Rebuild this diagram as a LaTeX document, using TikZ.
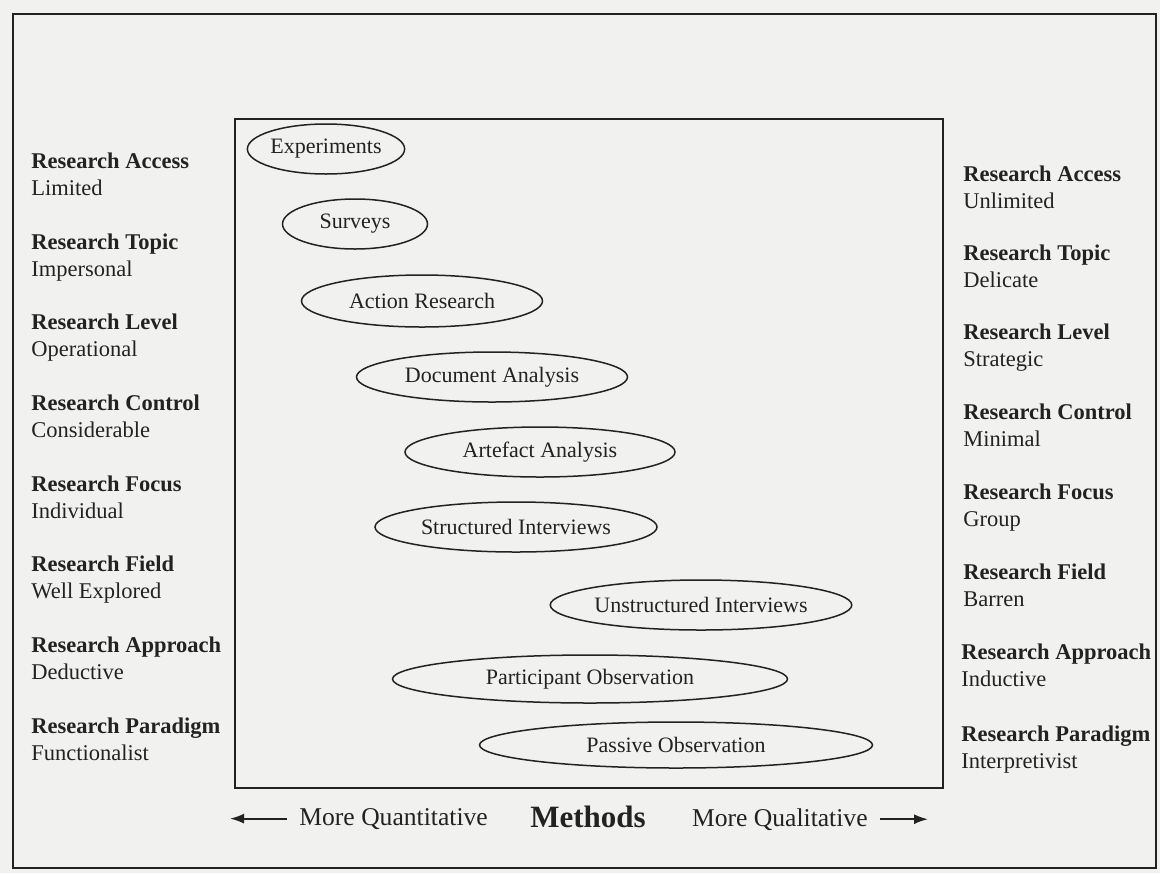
\documentclass[tikz,border=0pt]{standalone}
\usepackage{fontspec}
\setmainfont{Liberation Serif}
\usetikzlibrary{arrows.meta,shapes.geometric}
\definecolor{scan-bg}{HTML}{F1F1EF}
\definecolor{scan-ink}{HTML}{222222}

\begin{document}
\begin{tikzpicture}[>={Latex[length=7pt,width=5pt]},x=0.5pt,y=-0.5pt,
  every node/.style={text=scan-ink},
  crit/.style={anchor=north west,align=left,inner sep=0pt,
    font=\fontsize{11.25}{13.75}\selectfont},
  method/.style={ellipse,draw=scan-ink,line width=0.75pt,inner sep=0pt,
    minimum height=25pt,font=\fontsize{11}{13}\selectfont},
  axis/.style={inner sep=0pt,font=\fontsize{12.8}{15}\selectfont}]
  % Page and frames
  \useasboundingbox[fill=scan-bg] (0,0) rectangle (1160,873);
  \draw[scan-ink,line width=0.85pt] (13,14) rectangle (1156,868);
  \draw[scan-ink,line width=0.85pt] (235,119) rectangle (943,788);

  % Left side: quantitative end
  \node[crit] (accL) at (31,152) {\textbf{Research Access}\\Limited};
  \node[crit] (topL) at (31,233) {\textbf{Research Topic}\\Impersonal};
  \node[crit] (levL) at (31,313) {\textbf{Research Level}\\Operational};
  \node[crit] (conL) at (31,394) {\textbf{Research Control}\\Considerable};
  \node[crit] (focL) at (31,475) {\textbf{Research Focus}\\Individual};
  \node[crit] (fldL) at (31,555) {\textbf{Research Field}\\Well Explored};
  \node[crit] (appL) at (31,636) {\textbf{Research Approach}\\Deductive};
  \node[crit] (parL) at (31,717) {\textbf{Research Paradigm}\\Functionalist};
  % Right side: qualitative end
  \node[crit] (accR) at (963,165) {\textbf{Research Access}\\Unlimited};
  \node[crit] (topR) at (963,244) {\textbf{Research Topic}\\Delicate};
  \node[crit] (levR) at (963,323) {\textbf{Research Level}\\Strategic};
  \node[crit] (conR) at (963,403) {\textbf{Research Control}\\Minimal};
  \node[crit] (focR) at (963,483) {\textbf{Research Focus}\\Group};
  \node[crit] (fldR) at (963,563) {\textbf{Research Field}\\Barren};
  \node[crit] (appR) at (961,643) {\textbf{Research Approach}\\Inductive};
  \node[crit] (parR) at (961,725) {\textbf{Research Paradigm}\\Interpretivist};

  % Methods
  \node[method,minimum width=71.5pt] (exp) at (326,149) {Experiments};
  \node[method,minimum width=72.5pt] (sur) at (355,224) {Surveys};
  \node[method,minimum width=120.5pt,minimum height=26pt] (act) at (422,301) {Action Research};
  \node[method,minimum width=135.5pt] (doc) at (492,377) {Document Analysis};
  \node[method,minimum width=135pt] (art) at (540,452) {Artefact Analysis};
  \node[method,minimum width=141pt] (sti) at (516,527) {Structured Interviews};
  \node[method,minimum width=129pt] (uni) at (701,605) {Unstructured Interviews};
  \node[method,minimum width=197.5pt,minimum height=24pt] (par) at (590,679) {Participant Observation};
  \node[method,minimum width=196.5pt,minimum height=23pt] (pas) at (676,745) {Passive Observation};

  % Axis under the box
  \node[axis,anchor=base west] (quan) at (299,825) {More Quantitative};
  \node[anchor=base,font=\fontsize{15.5}{18}\selectfont\bfseries] (meth) at (588,827) {Methods};
  \node[axis,anchor=base east] (qual) at (868,826) {More Qualitative};
  \coordinate (quanEnd) at (230,814);
  \coordinate (qualEnd) at (928,820);
  \draw[->,scan-ink,line width=0.9pt] ([xshift=-6pt]quan.west) -- (quan.west -| quanEnd);
  \draw[->,scan-ink,line width=0.9pt] ([xshift=6pt]qual.east) -- (qual.east -| qualEnd);
\end{tikzpicture}
\end{document}
